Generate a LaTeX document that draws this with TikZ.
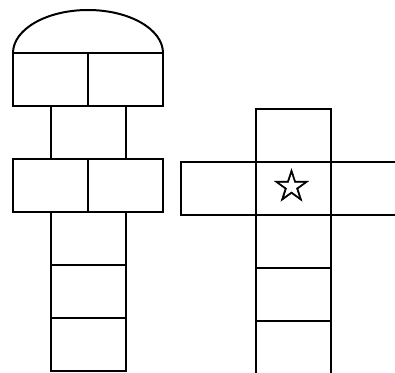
\documentclass[tikz,border=0pt]{standalone}
\usepackage{fontspec}
\newfontfamily\symfont[FakeBold=1.2]{DejaVu Sans}
\usetikzlibrary{positioning}
\tikzset{
  cell/.style={draw=black,line width=1pt,minimum width=37.5pt,minimum height=26.5pt,
    inner sep=0pt,outer sep=0pt},
  starlabel/.style={font=\symfont\fontsize{22}{22}\selectfont,inner sep=0pt}
}
\begin{document}
\begin{tikzpicture}[x=0.5pt,y=0.5pt,node distance=0pt]
  \clip (0,0) rectangle (395,372);

  % linke Figur
  \node[cell] (lt1) at (50.5,292.5) {};
  \node[cell, right=of lt1] (lt2) {};
  \node[cell] (lm) at (88,239.5) {};
  \node[cell] (lr1) at (50.5,186.5) {};
  \node[cell, right=of lr1] (lr2) {};
  \node[cell] (lc1) at (88,133.5) {};
  \node[cell, below=of lc1] (lc2) {};
  \node[cell, below=of lc2] (lc3) {};
  \draw[line width=1pt] (lt1.north west)
    arc[start angle=180,end angle=0,x radius=37.5pt,y radius=21.5pt];

  % rechte Figur
  \node[cell] (rm) at (293.5,184) {};
  \node[cell, above=of rm] (rt) {};
  \node[cell, left=of rm] (rl) {};
  \node[cell, right=of rm] (rr) {};
  \node[cell, below=of rm] (rc1) {};
  \node[cell, below=of rc1] (rc2) {};
  \node[cell, below=of rc2] (rc3) {};
  \node[starlabel] (star) at ([xshift=-1pt,yshift=1.5pt]rm.center) {☆};
\end{tikzpicture}
\end{document}
